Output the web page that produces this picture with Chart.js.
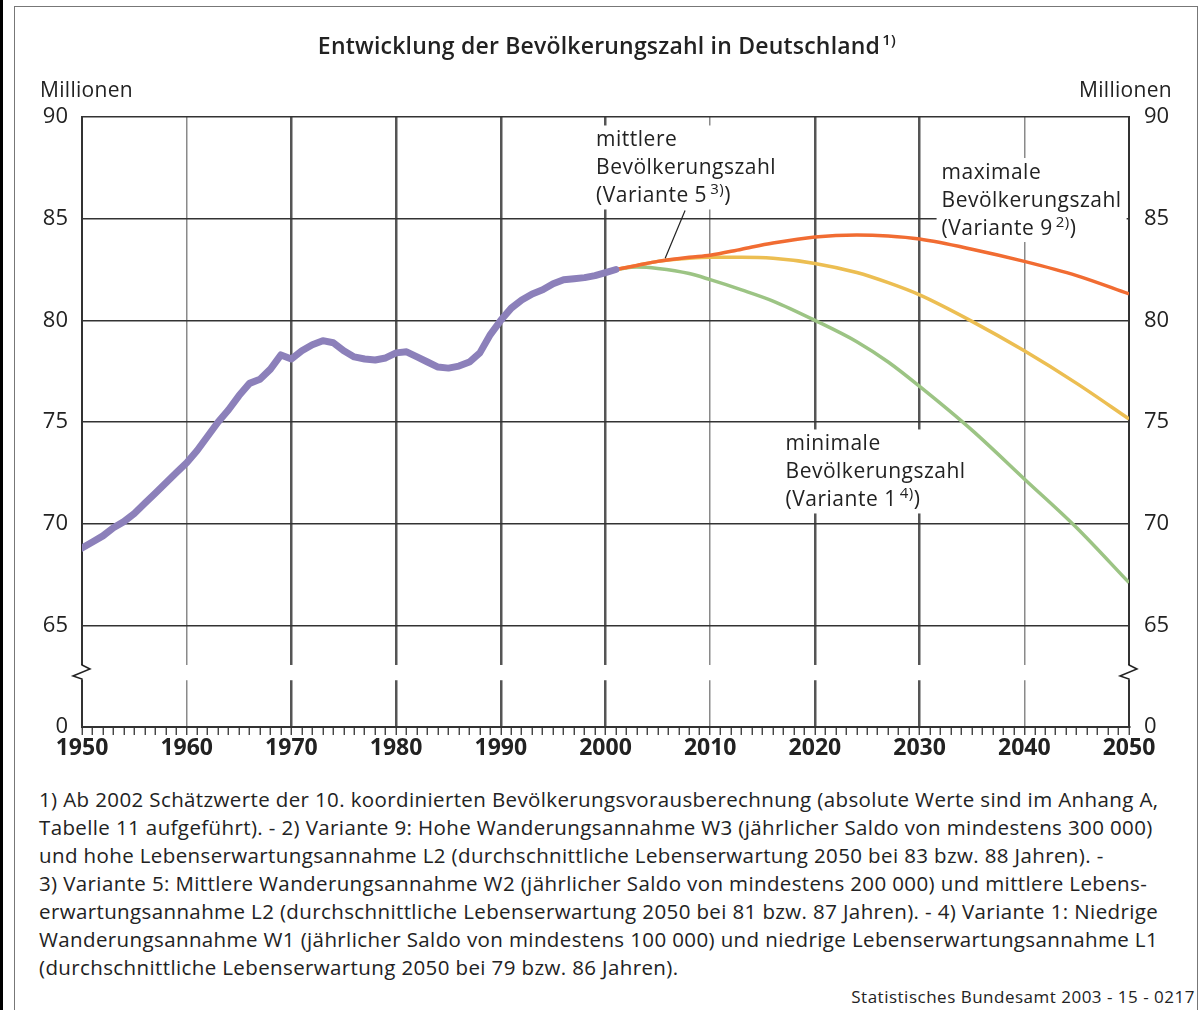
<!DOCTYPE html>
<html lang="de">
<head>
<meta charset="utf-8">
<title>Entwicklung der Bevölkerungszahl in Deutschland</title>
<script src="https://cdn.jsdelivr.net/npm/chart.js@4.4.1/dist/chart.umd.min.js"></script>
<style>
body { margin: 0; background: #fff; font-family: "Open Sans", sans-serif; color: #222; }
#page { position: relative; width: 1201px; height: 1010px; overflow: hidden; }
.bar { position: absolute; left: 0; top: 0; width: 3px; height: 1010px; background: #000; }
.frame { position: absolute; left: 14px; top: 6px; width: 1184px; height: 1100px; border: 1.5px solid #777; box-sizing: border-box; }
#chart { position: absolute; left: 0; top: 0; }
.notes { position: absolute; left: 39px; top: 785px; font-size: 20.5px; letter-spacing: 0.38px; line-height: 28px; white-space: pre; }
.source { position: absolute; right: 6px; top: 985px; font-size: 17px; letter-spacing: 0.5px; }
</style>
</head>
<body>
<div id="page">
<div class="bar"></div>
<div class="frame"></div>
<canvas id="chart" width="1201" height="770"></canvas>
<div class="notes">1) Ab 2002 Schätzwerte der 10. koordinierten Bevölkerungsvorausberechnung (absolute Werte sind im Anhang A,
Tabelle 11 aufgeführt). - 2) Variante 9: Hohe Wanderungsannahme W3 (jährlicher Saldo von mindestens 300 000)
und hohe Lebenserwartungsannahme L2 (durchschnittliche Lebenserwartung 2050 bei 83 bzw. 88 Jahren). -
3) Variante 5: Mittlere Wanderungsannahme W2 (jährlicher Saldo von mindestens 200 000) und mittlere Lebens-
erwartungsannahme L2 (durchschnittliche Lebenserwartung 2050 bei 81 bzw. 87 Jahren). - 4) Variante 1: Niedrige
Wanderungsannahme W1 (jährlicher Saldo von mindestens 100 000) und niedrige Lebenserwartungsannahme L1
(durchschnittliche Lebenserwartung 2050 bei 79 bzw. 86 Jahren).</div>
<div class="source">Statistisches Bundesamt 2003 - 15 - 0217</div>
</div>
<script>
// Bevölkerung in Mio., bis 2001 Ist-Werte
const histYears = [1950, 1951, 1952, 1953, 1954, 1955, 1956, 1957, 1958, 1959,
	1960, 1961, 1962, 1963, 1964, 1965, 1966, 1967, 1968, 1969,
	1970, 1971, 1972, 1973, 1974, 1975, 1976, 1977, 1978, 1979,
	1980, 1981, 1982, 1983, 1984, 1985, 1986, 1987, 1988, 1989,
	1990, 1991, 1992, 1993, 1994, 1995, 1996, 1997, 1998, 1999,
	2000, 2001];
const histValues = [68.8, 69.1, 69.4, 69.8, 70.1, 70.5, 71.0, 71.5, 72.0, 72.5,
	73.0, 73.6, 74.3, 75.0, 75.6, 76.3, 76.9, 77.1, 77.6, 78.3,
	78.1, 78.5, 78.8, 79.0, 78.9, 78.5, 78.2, 78.1, 78.05, 78.15,
	78.4, 78.45, 78.2, 77.95, 77.7, 77.65, 77.75, 77.95, 78.4, 79.3,
	80.0, 80.6, 81.0, 81.3, 81.5, 81.8, 82.0, 82.05, 82.1, 82.2,
	82.35, 82.5];

// Vorausberechnung ab 2002
const projYears = [2001, 2003, 2005, 2008, 2010, 2013, 2016, 2020, 2024, 2027, 2030, 2035, 2040, 2045, 2050];
const projMax = [82.5, 82.7, 82.9, 83.1, 83.2, 83.5, 83.8, 84.1, 84.2, 84.15, 84.0, 83.5, 82.9, 82.2, 81.3];
const projMid = [82.5, 82.7, 82.9, 83.05, 83.1, 83.1, 83.05, 82.8, 82.35, 81.85, 81.25, 79.95, 78.5, 76.9, 75.15];
const projMin = [82.5, 82.62, 82.55, 82.3, 82.0, 81.5, 80.95, 80.0, 78.95, 77.95, 76.75, 74.6, 72.2, 69.8, 67.1];

const yMin = 60;   // Achsenbruch: unterster Wert wird als 0 beschriftet
const yMax = 90;

function pts(xs, ys) {
	return xs.map(function (x, i) { return { x: x, y: ys[i] }; });
}

const fontFam = '"Open Sans", sans-serif';
Chart.defaults.font.family = fontFam;
Chart.defaults.color = '#222';

// Beschriftungen im Diagramm (Position in Jahr / Mio.)
const notes = [
	{ year: 1999.1, val: 88.55, lines: ['mittlere', 'Bevölkerungszahl', '(Variante 5'], sup: '3)' },
	{ year: 2032.1, val: 86.95, lines: ['maximale', 'Bevölkerungszahl', '(Variante 9'], sup: '2)' },
	{ year: 2017.2, val: 73.6, lines: ['minimale', 'Bevölkerungszahl', '(Variante 1'], sup: '4)' }
];

function setNoteFont(ctx, size) {
	ctx.font = size + 'px ' + fontFam;
	ctx.letterSpacing = '0.5px';
}

function noteWidth(ctx, n) {
	setNoteFont(ctx, 21);
	let w = 0;
	n.lines.forEach(function (t) { w = Math.max(w, ctx.measureText(t).width); });
	return w;
}

const decor = {
	id: 'decor',
	beforeDatasetsDraw(chart) {
		const ctx = chart.ctx, a = chart.chartArea, x = chart.scales.x, y = chart.scales.y;
		ctx.save();
		ctx.fillStyle = '#fff';
		const g1 = y.getPixelForValue(63.05), g2 = y.getPixelForValue(62.3);
		ctx.fillRect(a.left - 4, g1, a.right - a.left + 8, g2 - g1);
		ctx.strokeStyle = '#222';
		ctx.lineWidth = 1.5;
		[a.left, a.right].forEach(function (ax) {
			ctx.beginPath();
			ctx.moveTo(ax, g1 - 1);
			ctx.lineTo(ax, g1);
			ctx.lineTo(ax + 8, g1 + 4);
			ctx.lineTo(ax - 9, g1 + 11);
			ctx.lineTo(ax, g1 + 14);
			ctx.lineTo(ax, g2 + 1);
			ctx.stroke();
		});
		// weisse Flaechen hinter den Beschriftungen
		notes.forEach(function (n) {
			const px = x.getPixelForValue(n.year), py = y.getPixelForValue(n.val);
			const w = noteWidth(ctx, n);
			ctx.fillStyle = '#fff';
			ctx.fillRect(px - 5, py - 21, w + 10, 2 * 28 + 28);
		});
		ctx.restore();
	},
	afterDatasetsDraw(chart) {
		const ctx = chart.ctx, x = chart.scales.x, y = chart.scales.y;
		ctx.save();
		ctx.fillStyle = '#222';
		ctx.textBaseline = 'alphabetic';
		notes.forEach(function (n) {
			const px = x.getPixelForValue(n.year), py = y.getPixelForValue(n.val);
			setNoteFont(ctx, 21);
			n.lines.forEach(function (t, i) { ctx.fillText(t, px, py + i * 28); });
			const last = n.lines[n.lines.length - 1];
			let sx = px + ctx.measureText(last).width + 3;
			setNoteFont(ctx, 15);
			ctx.fillText(n.sup, sx, py + 56 - 8);
			sx += ctx.measureText(n.sup).width;
			setNoteFont(ctx, 21);
			ctx.fillText(')', sx, py + 56);
		});
		// Hinweislinie zur mittleren Variante
		ctx.strokeStyle = '#222';
		ctx.lineWidth = 1.2;
		ctx.beginPath();
		ctx.moveTo(x.getPixelForValue(2007.6), y.getPixelForValue(85.4));
		ctx.lineTo(x.getPixelForValue(2005.7), y.getPixelForValue(83.05));
		ctx.stroke();
		ctx.restore();
	},
	afterDraw(chart) {
		const ctx = chart.ctx;
		ctx.save();
		ctx.fillStyle = '#222';
		ctx.font = '600 23px ' + fontFam;
		ctx.letterSpacing = '0.2px';
		const title = 'Entwicklung der Bevölkerungszahl in Deutschland';
		const tw = ctx.measureText(title).width;
		const tx = 599 - tw / 2;
		ctx.fillText(title, tx, 54);
		ctx.font = '600 15px ' + fontFam;
		ctx.fillText('1)', tx + tw + 2, 45);
		ctx.font = '21px ' + fontFam;
		ctx.letterSpacing = '0.3px';
		ctx.textAlign = 'left';
		ctx.fillText('Millionen', 40, 97);
		ctx.textAlign = 'right';
		ctx.fillText('Millionen', 1172, 97);
		ctx.restore();
	}
};

const ctx = document.getElementById('chart').getContext('2d');
const myChart = new Chart(ctx, {
	type: 'line',
	data: {
		datasets: [{
			label: 'Bevölkerung',
			data: pts(histYears, histValues),
			borderColor: 'rgb(140, 128, 186)',
			borderWidth: 7,
			borderCapStyle: 'round',
			borderJoinStyle: 'round',
			pointRadius: 0,
			tension: 0
		}, {
			label: 'maximale Bevölkerungszahl',
			data: pts(projYears, projMax),
			borderColor: 'rgb(241, 108, 50)',
			borderWidth: 3.5,
			pointRadius: 0,
			cubicInterpolationMode: 'monotone'
		}, {
			label: 'mittlere Bevölkerungszahl',
			data: pts(projYears, projMid),
			borderColor: 'rgb(236, 190, 82)',
			borderWidth: 3.5,
			pointRadius: 0,
			cubicInterpolationMode: 'monotone'
		}, {
			label: 'minimale Bevölkerungszahl',
			data: pts(projYears, projMin),
			borderColor: 'rgb(156, 196, 132)',
			borderWidth: 3.5,
			pointRadius: 0,
			cubicInterpolationMode: 'monotone'
		}]
	},
	options: {
		responsive: false,
		animation: false,
		devicePixelRatio: 1,
		events: [],
		layout: { padding: { top: 117, left: 0, right: 0, bottom: 0 } },
		plugins: { legend: { display: false }, tooltip: { enabled: false } },
		scales: {
			x: {
				type: 'linear',
				min: 1950,
				max: 2050,
				afterFit: function (s) { s.height = 43; },
				ticks: {
					stepSize: 1,
					maxTicksLimit: 200,
					autoSkip: false,
					maxRotation: 0,
					padding: 0,
					font: { size: 23, weight: 'bold' },
					color: '#222',
					callback: function (v) { return v % 10 === 0 ? String(v) : ''; }
				},
				grid: {
					color: function (c) {
						const v = c.tick ? c.tick.value : 0;
						if (v % 10 !== 0 || v === 1950 || v === 2050) return 'rgba(0,0,0,0)';
						return (v === 1960 || v === 2010 || v === 2040) ? '#8a8a8a' : '#555';
					},
					lineWidth: function (c) {
						const v = c.tick ? c.tick.value : 0;
						return (v === 1960 || v === 2010 || v === 2040) ? 1.5 : 2.5;
					},
					tickColor: '#333',
					tickWidth: 1.3,
					tickLength: 8
				},
				border: { color: '#333', width: 2 }
			},
			y: {
				position: 'left',
				min: yMin,
				max: yMax,
				afterFit: function (s) { s.width = 82; },
				ticks: {
					stepSize: 5,
					padding: 14,
					font: { size: 22 },
					color: '#222',
					callback: function (v) { return v === yMin ? '0' : String(v); }
				},
				grid: {
					drawTicks: false,
					color: function (c) { return c.tick && c.tick.value === yMin ? 'rgba(0,0,0,0)' : '#333'; },
					lineWidth: 1.5
				},
				border: { color: '#333', width: 2 }
			},
			y2: {
				position: 'right',
				min: yMin,
				max: yMax,
				afterFit: function (s) { s.width = 72; },
				ticks: {
					stepSize: 5,
					padding: 15,
					font: { size: 22 },
					color: '#222',
					callback: function (v) { return v === yMin ? '0' : String(v); }
				},
				grid: { drawOnChartArea: false, drawTicks: false },
				border: { color: '#333', width: 2 }
			}
		}
	},
	plugins: [decor]
});
</script>
</body>
</html>
